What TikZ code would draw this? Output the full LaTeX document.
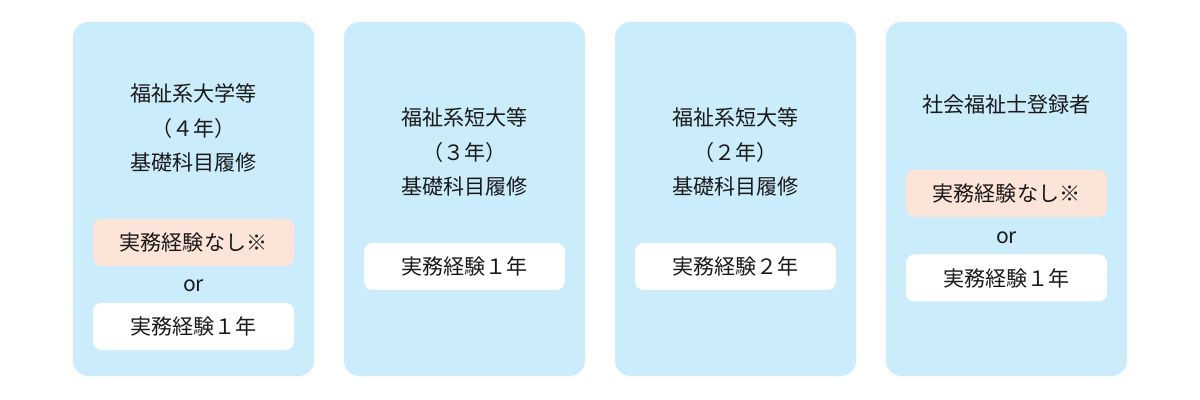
\documentclass[tikz,border=0pt]{standalone}
\usepackage{fontspec}
\setmainfont{Noto Sans CJK JP}
\usepackage{tikz}
\usetikzlibrary{positioning}
\definecolor{paleblue}{RGB}{203,236,250}
\definecolor{palepink}{RGB}{252,228,216}
\definecolor{inktext}{RGB}{26,26,26}

\begin{document}
\begin{tikzpicture}[
  every node/.style={font=\fontsize{15}{24.8}\selectfont, text=inktext},
  column/.style={rectangle, fill=paleblue, rounded corners=11pt,
                 minimum width=6.025cm, minimum height=8.85cm},
  title/.style={align=center},
  pinkbox/.style={rectangle, fill=palepink, rounded corners=6pt,
                  minimum width=5.025cm, minimum height=1.175cm},
  whitebox/.style={rectangle, fill=white, rounded corners=6pt,
                   minimum width=5.025cm, minimum height=1.175cm},
  ortext/.style={inner sep=0pt}
]
  \useasboundingbox[fill=white] (0,0) rectangle (30,-10);

  \node[column] (c1) at (4.8375,-4.975) {};
  \node[column] (c2) at (11.6125,-4.975) {};
  \node[column] (c3) at (18.3875,-4.975) {};
  \node[column] (c4) at (25.1625,-4.975) {};

  % 4-year university
  \node[title] (t1) at (4.8375,-3.2) {福祉系大学等\\（４年）\\基礎科目履修};
  \node[pinkbox] (p1) at (4.8375,-6.0625) {実務経験なし※};
  \node[ortext] (o1) at (4.8375,-7.15) {or};
  \node[whitebox] (w1) at (4.8375,-8.1625) {実務経験１年};

  % 3-year junior college
  \node[title] (t2) at (11.6125,-3.8) {福祉系短大等\\（３年）\\基礎科目履修};
  \node[whitebox] (w2) at (11.6125,-6.6625) {実務経験１年};

  % 2-year junior college
  \node[title] (t3) at (18.3875,-3.8) {福祉系短大等\\（２年）\\基礎科目履修};
  \node[whitebox] (w3) at (18.3875,-6.6625) {実務経験２年};

  % registered social worker
  \node[title] (t4) at (25.1625,-2.625) {社会福祉士登録者};
  \node[pinkbox] (p4) at (25.1625,-4.8375) {実務経験なし※};
  \node[ortext] (o4) at (25.1625,-5.95) {or};
  \node[whitebox] (w4) at (25.1625,-6.95) {実務経験１年};
\end{tikzpicture}
\end{document}
